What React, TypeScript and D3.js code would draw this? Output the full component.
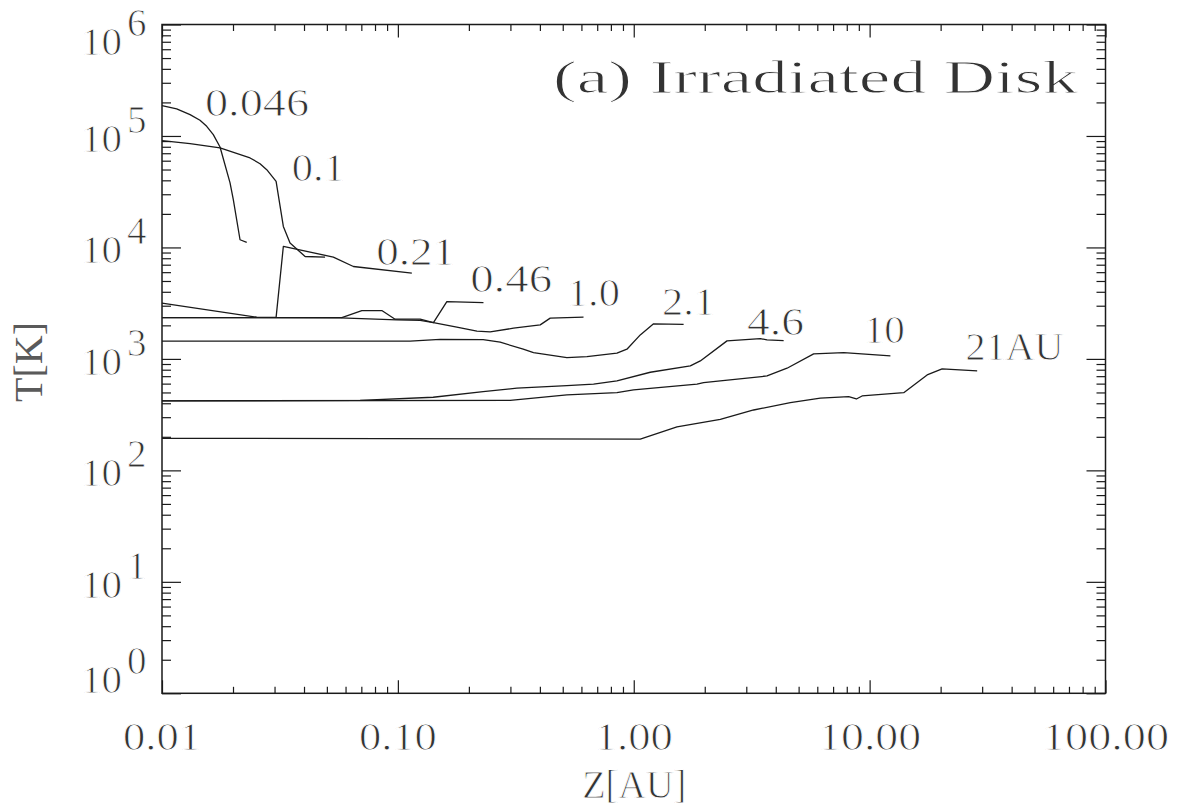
import React, { useRef, useEffect } from "react";
import * as d3 from "d3";

// disk radius of each profile, as written next to the curve
const radiusLabels = ["0.046", "0.1", "0.21", "0.46", "1.0", "2.1", "4.6", "10", "21AU"];

// T(z) profiles: [z in AU, T in K]
const prof0046: [number, number][] = [
  [0.01, 187300], [0.01154, 174900], [0.01315, 155500], [0.01449, 138200], [0.01547, 122000],
  [0.0165, 102800], [0.01762, 79700], [0.01943, 37900], [0.02006, 26800], [0.02142, 11720],
  [0.02287, 11080],
];
const prof01: [number, number][] = [
  [0.01, 90800], [0.01315, 85300], [0.01762, 78100], [0.02362, 63500], [0.02604, 56400],
  [0.0278, 49800], [0.03046, 39100], [0.03269, 15430], [0.0349, 10940], [0.04043, 8295],
  [0.04913, 8193],
];
const prof021: [number, number][] = [
  [0.01, 3164], [0.02522, 2368], [0.03046, 2358], [0.03269, 10200], [0.05327, 8193],
  [0.06477, 6745], [0.1146, 5886],
];
const prof046: [number, number][] = [
  [0.01, 2349], [0.05785, 2349], [0.07033, 2715], [0.08548, 2715], [0.09734, 2272],
  [0.1243, 2272], [0.1415, 2118], [0.1613, 3270], [0.2306, 3203],
];
const prof10: [number, number][] = [
  [0.01, 2349], [0.05689, 2334], [0.099, 2240], [0.1243, 2217], [0.1415, 2118],
  [0.1778, 1926], [0.2163, 1773], [0.2462, 1747], [0.3092, 1887], [0.4013, 2020],
  [0.4424, 2320], [0.6124, 2368],
];
const prof21: [number, number][] = [
  [0.01, 1442], [0.1127, 1442], [0.1511, 1497], [0.2299, 1488], [0.2715, 1412],
  [0.3399, 1222], [0.3758, 1139], [0.5207, 1027], [0.6332, 1048], [0.8486, 1125],
  [0.9356, 1222], [1.0656, 1642], [1.2134, 2062], [1.627, 2040],
];
const prof46: [number, number][] = [
  [0.01, 421], [0.06917, 424], [0.1411, 453], [0.2299, 508], [0.3196, 546],
  [0.5207, 576], [0.6753, 593], [0.8486, 634], [1.175, 759], [1.737, 865],
  [1.915, 959], [2.485, 1451], [3.44, 1521], [3.673, 1481], [4.32, 1460],
];
const prof100: [number, number][] = [
  [0.01, 420], [0.2993, 425], [0.5207, 475], [0.8486, 498], [0.998, 527],
  [1.854, 593], [1.977, 612], [2.328, 634], [3.673, 703], [4.466, 825],
  [5.79, 1109], [7.762, 1139], [12.25, 1064],
];
const prof210: [number, number][] = [
  [0.01, 194], [1.0656, 191], [1.525, 246], [2.328, 287], [3.223, 348],
  [4.611, 405], [6.18, 444], [8.151, 458], [8.787, 437], [9.29, 465],
  [13.95, 498], [17.53, 718], [20.29, 813], [28.57, 780],
];
const profiles = [prof0046, prof01, prof021, prof046, prof10, prof21, prof46, prof100, prof210];

// where each radius label starts (z, T at the text baseline)
const labelZ = [0.01522, 0.0355, 0.0809, 0.2025, 0.5207, 1.317, 3.022, 9.436, 25.48];
const labelT = [1.5e5, 3.97e4, 6988, 3957, 2961, 2485, 1642, 1383, 979];

const xTickValues = [0.01, 0.1, 1, 10, 100];
const xTickLabels = ["0.01", "0.10", "1.00", "10.00", "100.00"];
const yTickExponents = [0, 1, 2, 3, 4, 5, 6];

const title = "(a) Irradiated Disk";
const xTitle = "Z[AU]";
const yTitle = "T[K]";

function TempChart() {
  const svgRef = useRef<SVGSVGElement>(null);

  useEffect(() => {
    const svg = d3.select(svgRef.current);
    svg.selectAll("*").remove();

    const ink = "#1a1a1a";
    const textInk = "#333";
    const font = "'Liberation Serif', 'Times New Roman', serif";

    const left = 162, right = 1105.5, top = 24.5, bottom = 693.3;
    const x = d3.scaleLog().domain([0.01, 100]).range([left, right]);
    const y = d3.scaleLog().domain([1, 1e6]).range([bottom, top]);

    const isMajor = (v: number) => Math.abs(Math.log10(v) - Math.round(Math.log10(v))) < 1e-6;
    const xMajor = x.ticks().filter(isMajor);
    const xMinor = x.ticks().filter(v => !isMajor(v));
    const yMajor = y.ticks().filter(isMajor);
    const yMinor = y.ticks().filter(v => !isMajor(v));

    // ticks on all four sides, pointing inward
    const tickAxis = (axis: any, transform: string, values: number[], size: number) => {
      const g = svg.append("g")
        .attr("transform", transform)
        .call(axis.tickValues(values).tickSizeInner(size).tickSizeOuter(0).tickFormat(() => ""));
      g.select(".domain").remove();
      g.selectAll("text").remove();
      g.selectAll("line").attr("stroke", ink).attr("stroke-width", 1.2);
    };
    tickAxis(d3.axisBottom(x), `translate(0,${bottom})`, xMajor, -13);
    tickAxis(d3.axisBottom(x), `translate(0,${bottom})`, xMinor, -6.5);
    tickAxis(d3.axisTop(x), `translate(0,${top})`, xMajor, -13);
    tickAxis(d3.axisTop(x), `translate(0,${top})`, xMinor, -6.5);
    tickAxis(d3.axisLeft(y), `translate(${left},0)`, yMajor, -19);
    tickAxis(d3.axisLeft(y), `translate(${left},0)`, yMinor, -9);
    tickAxis(d3.axisRight(y), `translate(${right},0)`, yMajor, -19);
    tickAxis(d3.axisRight(y), `translate(${right},0)`, yMinor, -9);

    svg.append("rect")
      .attr("x", left).attr("y", top)
      .attr("width", right - left).attr("height", bottom - top)
      .attr("fill", "none").attr("stroke", ink).attr("stroke-width", 1.5);

    // temperature profiles
    const line = d3.line<[number, number]>().x(d => x(d[0])).y(d => y(d[1]));
    svg.selectAll(".profile")
      .data(profiles)
      .join("path")
      .attr("class", "profile")
      .attr("d", d => line(d))
      .attr("fill", "none")
      .attr("stroke", ink)
      .attr("stroke-width", 1.3)
      .attr("stroke-linejoin", "round");

    // thin-looking text: white stroke painted over the glyph edges
    const styleText = (sel: any, size: number) =>
      sel.attr("font-family", font)
        .attr("font-size", size)
        .attr("fill", textInk)
        .attr("stroke", "#fff")
        .attr("stroke-width", 0.9)
        .attr("paint-order", "fill");

    // radius labels
    const labelWidths = [104, 53, 79, 82, 53, 53, 57, 41, 98];
    svg.selectAll(".rlabel")
      .data(radiusLabels)
      .join("text")
      .attr("class", "rlabel")
      .attr("x", (d, i) => x(labelZ[i]))
      .attr("y", (d, i) => y(labelT[i]))
      .attr("textLength", (d, i) => labelWidths[i])
      .attr("lengthAdjust", "spacingAndGlyphs")
      .call(styleText, 39)
      .text(d => d);

    // x tick labels
    const xLabelWidths = [78, 78, 78, 103, 127];
    svg.selectAll(".xlabel")
      .data(xTickLabels)
      .join("text")
      .attr("class", "xlabel")
      .attr("x", (d, i) => x(xTickValues[i]))
      .attr("y", 750)
      .attr("text-anchor", "middle")
      .attr("textLength", (d, i) => xLabelWidths[i])
      .attr("lengthAdjust", "spacingAndGlyphs")
      .call(styleText, 39)
      .text(d => d);

    // y tick labels: 10^n, kept inside the frame's height
    yTickExponents.forEach(e => {
      const base = Math.min(bottom, Math.max(55, y(Math.pow(10, e)) + 16));
      svg.append("text")
        .attr("x", 122).attr("y", base)
        .attr("text-anchor", "end")
        .attr("textLength", 41)
        .attr("lengthAdjust", "spacingAndGlyphs")
        .call(styleText, 39)
        .text("10");
      svg.append("text")
        .attr("x", 127).attr("y", base - 19)
        .call(styleText, 39)
        .text(String(e));
    });

    // axis titles and panel title
    svg.append("text")
      .attr("x", (left + right) / 2 + 0.5).attr("y", 798)
      .attr("text-anchor", "middle")
      .attr("textLength", 104).attr("lengthAdjust", "spacingAndGlyphs")
      .call(styleText, 40)
      .text(xTitle);
    svg.append("text")
      .attr("transform", "translate(42,362) rotate(-90)")
      .attr("text-anchor", "middle")
      .attr("textLength", 80).attr("lengthAdjust", "spacingAndGlyphs")
      .attr("font-family", font)
      .attr("font-size", 40)
      .attr("fill", "#5a5a5a")
      .text(yTitle);
    svg.append("text")
      .attr("x", 553).attr("y", 93)
      .attr("textLength", 525).attr("lengthAdjust", "spacingAndGlyphs")
      .call(styleText, 46)
      .text(title);
  }, []);

  return (
    <svg
      ref={svgRef}
      width={1186}
      height={812}
      style={{ position: "absolute", left: 0, top: 0, background: "#fff" }}
    />
  );
}

export default function App() {
  return <TempChart />;
}
